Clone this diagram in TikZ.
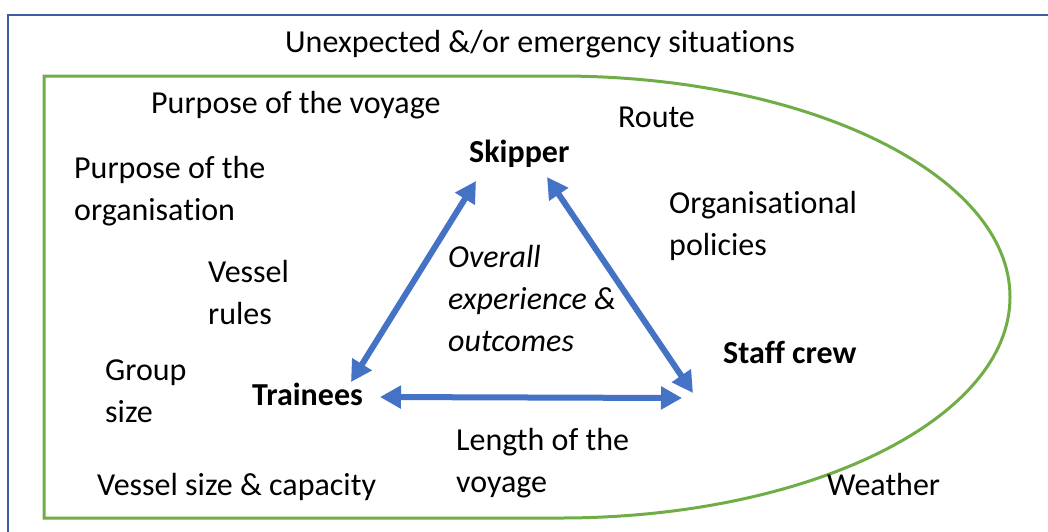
\documentclass[tikz,border=0pt]{standalone}
\usepackage{fontspec}
\setmainfont[Ligatures={NoCommon}]{Carlito}
\usetikzlibrary{arrows.meta}
\definecolor{framebl}{RGB}{59,94,160}
\definecolor{lgreen}{RGB}{112,173,71}
\definecolor{arrbl}{RGB}{68,114,196}
\begin{document}
\begin{tikzpicture}[x=1pt,y=-1pt,
  lbl/.style={anchor=base west,inner sep=0pt,font=\fontsize{32}{42}\selectfont,align=left},
  role/.style={lbl,font=\fontsize{32}{42}\selectfont\bfseries},
  link/.style={draw=arrbl,line width=6pt,{Triangle[length=21pt,width=22pt]}-{Triangle[length=21pt,width=22pt]}}]
\useasboundingbox[fill=white] (0,0) rectangle (1048,531);
% outer frame
\draw[framebl,line width=2.5pt] (8,15) rectangle (1070,560);
% green boundary
\draw[lgreen,line width=3pt] (44,76) -- (560,76)
  arc[start angle=90,end angle=-90,x radius=450pt,y radius=221pt]
  -- (44,518) -- cycle;
% texts (multi-line nodes: base = last line's baseline)
\node[lbl] (unexp) at (285,52) {Unexpected \&/or emergency situations};
\node[lbl] (pvoy) at (151,113) {Purpose of the voyage};
\node[lbl] (route) at (618,127) {Route};
\node[lbl] (porg) at (74,220) {Purpose of the\\organisation};
\node[lbl] (opol) at (669,255) {Organisational\\policies};
\node[lbl] (vrules) at (208,324) {Vessel\\rules};
\node[lbl,font=\fontsize{32}{42}\selectfont\itshape] (overall) at (448,351) {Overall\\experience \&\\outcomes};
\node[lbl] (group) at (105,422) {Group\\size};
\node[lbl] (length) at (456,492) {Length of the\\voyage};
\node[lbl] (vsize) at (97,495) {Vessel size \& capacity};
\node[lbl] (weather) at (827,495) {Weather};
\node[role] (skipper) at (469,162) {Skipper};
\node[role] (trainees) at (252,405) {Trainees};
\node[role] (staff) at (723,363) {Staff crew};
% connectors
\draw[link] ([shift={(7,19)}]skipper.base west) -- ([shift={(99,-23)}]trainees.base west);
\draw[link] ([shift={(78,15)}]skipper.base west) -- ([shift={(-30,30)}]staff.base west);
\draw[link] ([shift={(128,-8)}]trainees.base west) -- ([shift={(-41,35)}]staff.base west);
\end{tikzpicture}
\end{document}
